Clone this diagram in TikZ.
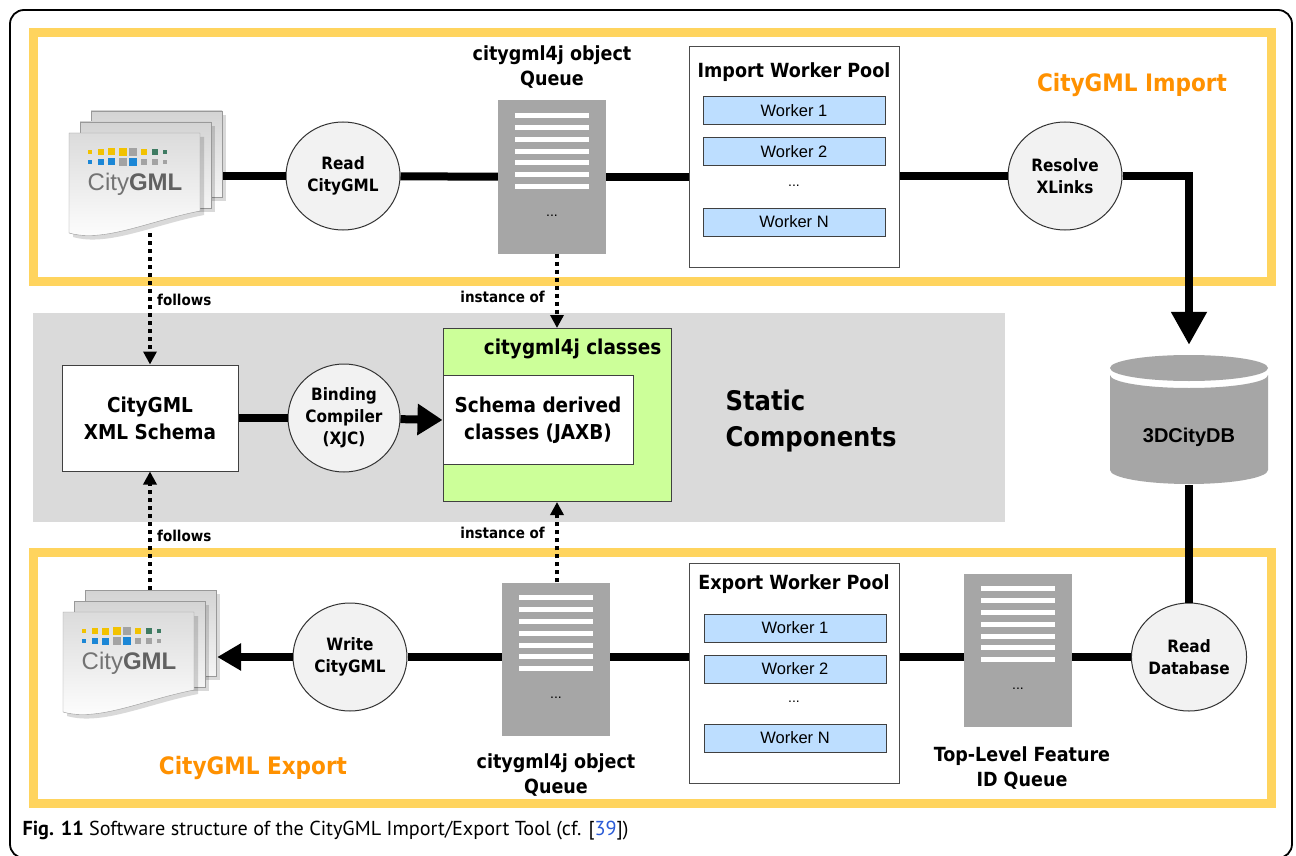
\documentclass[tikz,border=0pt]{standalone}
\usepackage{fontspec}
\setmainfont{DejaVu Sans Condensed}
\newfontfamily\arifont{Liberation Sans}
\newfontfamily\capfont{PT Sans}
\usetikzlibrary{shapes.geometric,arrows.meta,calc}

\definecolor{frameyellow}{HTML}{FFD45E}
\definecolor{titleorange}{HTML}{FF9100}
\definecolor{staticgray}{HTML}{DADADA}
\definecolor{queuegray}{HTML}{A6A6A6}
\definecolor{classgreen}{HTML}{CCFF99}
\definecolor{workerblue}{HTML}{BDDEFF}
\definecolor{procgray}{HTML}{F2F2F2}
\definecolor{refblue}{HTML}{2A5BD7}
\definecolor{gmlyellow}{HTML}{F2C200}
\definecolor{gmlblue}{HTML}{1C87D6}
\definecolor{gmlgreen}{HTML}{3E7B62}
\definecolor{gmlgray}{HTML}{A3A3A3}

\tikzstyle{process}=[ellipse,draw=black!80,fill=procgray,line width=1pt,minimum width=114pt,minimum height=108pt,inner sep=0pt,align=center,font=\bfseries\fontsize{17}{22}\selectfont]
\tikzstyle{queue}=[fill=queuegray,minimum width=108pt,minimum height=153pt,inner sep=0pt]
\tikzstyle{pool}=[draw=black!70,fill=white,line width=1pt,minimum width=210pt,minimum height=220pt]
\tikzstyle{worker}=[draw=black!75,fill=workerblue,line width=1pt,minimum width=182pt,minimum height=28pt,inner sep=0pt,font=\arifont\fontsize{16.5}{18}\selectfont]
\tikzstyle{heading}=[align=center,font=\bfseries\fontsize{19.5}{25}\selectfont]
\tikzstyle{part}=[text=titleorange,font=\bfseries\fontsize{24}{28}\selectfont]
\tikzstyle{schema}=[draw=black!75,fill=white,line width=1pt,align=center,inner sep=0pt,font=\bfseries\fontsize{20.5}{27}\selectfont]
\tikzstyle{pipe}=[line width=8pt]
\tikzstyle{dep}=[line width=4pt,dash pattern=on 4pt off 4pt,-{Triangle[length=13pt,width=13pt]}]
\tikzstyle{tag}=[font=\bfseries\fontsize{15}{18}\selectfont,inner sep=2pt]
\tikzstyle{dots}=[font=\arifont\fontsize{14}{16}\selectfont,inner sep=1pt]

% stack of CityGML documents, front page top left at (#2,#3)
\newcommand{\gmldoc}[3]{%
  \begin{scope}[shift={(#2,#3)}]
    \foreach \dd in {22,11}{%
      \fill[black,opacity=0.15] (\dd+4,-\dd+4) rectangle (\dd+135,-\dd+90);
      \draw[black!40,top color=black!17,bottom color=black!4] (\dd,-\dd) rectangle (\dd+131,-\dd+86);
    }
    \fill[black,opacity=0.15] (4,4) -- (135,4) -- (135,82) .. controls (84,92) and (39,114) .. (4,104) -- cycle;
    \draw[black!40,top color=black!14,bottom color=white] (0,0) -- (131,0) -- (131,78) .. controls (80,88) and (35,110) .. (0,100) -- cycle;
    \foreach \x/\w/\c in {19/4/gmlyellow,29/6/gmlyellow,39/7/gmlyellow,50/8/gmlyellow,60/8/gmlgray,72/6/gmlyellow,83/6/gmlgreen,94/4/gmlgreen}
      \fill[\c] (\x,19-\w/2) rectangle ++(\w,\w);
    \foreach \x/\w/\c in {19/4/gmlblue,29/6/gmlblue,39/7/gmlblue,50/8/gmlgray,60/8/gmlblue,72/6/gmlgray,83/6/gmlgray,94/4/gmlgray}
      \fill[\c] (\x,29-\w/2) rectangle ++(\w,\w);
    \node[font=\arifont\fontsize{24}{28}\selectfont,inner sep=0pt] (#1txt) at (66,51) {\textcolor{black!55}{City}\textcolor{black!62}{\bfseries GML}};
    \node[minimum width=154pt,minimum height=122pt,inner sep=0pt] (#1) at (77,39) {};
  \end{scope}}

% white bars of a queue
\newcommand{\queuebars}[1]{%
  \foreach \i in {0,...,6}
    \fill[white] ($(#1.north)+(-37,13+11.8*\i)$) rectangle ++(74,5);
  \node[dots] (#1dots) at ($(#1.north)+(0,115)$) {...};}

\begin{document}
\begin{tikzpicture}[x=1pt,y=-1pt]
    \useasboundingbox (0,0) rectangle (1296,856);
    \fill[white] (0,0) rectangle (1296,856);
    \draw[line width=1.8pt,rounded corners=14pt] (10,10) rectangle (1292,858);

    % areas
    \draw[frameyellow,line width=9pt] (33,33) rectangle (1271,281);
    \draw[frameyellow,line width=9pt] (33,552) rectangle (1271,803);
    \fill[staticgray] (33,313) rectangle (1005,522);
    \node[part] (imptitle) at (1132,85) {CityGML Import};
    \node[part] (exptitle) at (253,768) {CityGML Export};

    % import
    \gmldoc{docin}{69}{133}
    \node[process] (readin) at (343,176) {Read\\CityGML};
    \node[queue] (q1) at (552,177) {};
    \queuebars{q1}
    \node[heading] (q1name) at (552,67) {citygml4j object\\Queue};
    \node[pool] (poolin) at (794,157) {};
    \node[heading] (poolinname) at (794,72) {Import Worker Pool};
    \foreach \y/\w in {111/Worker 1,152/Worker 2,222/Worker N}
        \node[worker] (wi\y) at (794,\y) {\w};
    \node[dots] (poolindots) at (794,186) {...};
    \node[process] (resolve) at (1065,176) {Resolve\\XLinks};

    % database
    \node[minimum width=158pt,minimum height=130pt,inner sep=0pt] (db) at (1189,420) {};
    \fill[queuegray] (1189,368) ellipse [x radius=79, y radius=13];
    \fill[queuegray] (1110,375) arc[start angle=180,end angle=0,x radius=79,y radius=13]
        -- (1268,470) arc[start angle=0,end angle=180,x radius=79,y radius=14] -- cycle;
    \node[font=\arifont\bfseries\fontsize{20}{24}\selectfont] (dbname) at (1189,437) {3DCityDB};

    % static components
    \node[schema,minimum width=176pt,minimum height=106pt] (schema) at (150,418) {CityGML\\XML Schema};
    \node[process,minimum width=112pt,minimum height=108pt] (binding) at (344,418) {Binding\\Compiler\\(XJC)};
    \node[draw=black!75,fill=classgreen,line width=1pt,minimum width=228pt,minimum height=173pt] (classes) at (557,415) {};
    \node[anchor=east,font=\bfseries\fontsize{20.5}{24}\selectfont] (classesname) at (665,349) {citygml4j classes};
    \node[schema,minimum width=190pt,minimum height=89pt] (jaxb) at (538,420) {Schema derived\\classes (JAXB)};
    \node[anchor=west,align=left,font=\bfseries\fontsize{27}{36}\selectfont] (static) at (722,421) {Static\\Components};

    % export
    \gmldoc{docout}{63}{612}
    \node[process] (write) at (350,657) {Write\\CityGML};
    \node[queue] (q2) at (556,659) {};
    \queuebars{q2}
    \node[heading] (q2name) at (556,775) {citygml4j object\\Queue};
    \node[pool] (poolout) at (794,673) {};
    \node[heading] (pooloutname) at (794,584) {Export Worker Pool};
    \foreach \y/\w in {628/Worker 1,669/Worker 2,738/Worker N}
        \node[worker] (wo\y) at (795,\y) {\w};
    \node[dots] (pooloutdots) at (794,702) {...};
    \node[queue] (q3) at (1018,650) {};
    \queuebars{q3}
    \node[heading] (q3name) at (1022,768) {Top-Level Feature\\ID Queue};
    \node[process] (readdb) at (1189,657) {Read\\Database};

    % data flow
    \draw[pipe] (docin.east |- readin) -- (readin);
    \foreach \from/\to in {readin/q1,schema/binding}
        \draw[pipe] (\from) -- (\to);
    \draw[pipe] (q1) -- (q1 -| poolin.west);
    \draw[pipe] (resolve -| poolin.east) -- (resolve);
    \draw[pipe,-{Triangle[length=33pt,width=34pt]}] (resolve) -| ([yshift=10pt]db.north);
    \draw[pipe,-{Triangle[length=25pt,width=30pt]}] (binding) -- (jaxb.west);
    \draw[pipe] (db.south) -- (readdb);
    \draw[pipe] (readdb) -- (readdb -| q3.east);
    \draw[pipe] (readdb -| q3.west) -- (readdb -| poolout.east);
    \draw[pipe] (readdb -| poolout.west) -- (readdb -| q2.east);
    \draw[pipe] (readdb -| q2.west) -- (write);
    \draw[pipe,-{Triangle[length=24pt,width=26pt]}] (write) -- (write -| docout.east);

    % dependencies
    \draw[dep] (docin.south -| schema) -- (schema);
    \draw[dep] (docout.north -| schema) -- (schema);
    \draw[dep] (q1.south -| classes) -- (classes);
    \draw[dep] (q2.north -| classes) -- (classes);
    \node[tag,anchor=west] (fol1) at (155,300) {follows};
    \node[tag,anchor=west] (fol2) at (155,536) {follows};
    \node[tag,anchor=east] (inst1) at (547,297) {instance of};
    \node[tag,anchor=east] (inst2) at (547,533) {instance of};

    \node[anchor=west,font=\capfont\fontsize{20.2}{23}\selectfont] (caption) at (19,831) {\textbf{Fig. 11} Software structure of the CityGML Import/Export Tool (cf. [\textcolor{refblue}{39}])};
\end{tikzpicture}
\end{document}
